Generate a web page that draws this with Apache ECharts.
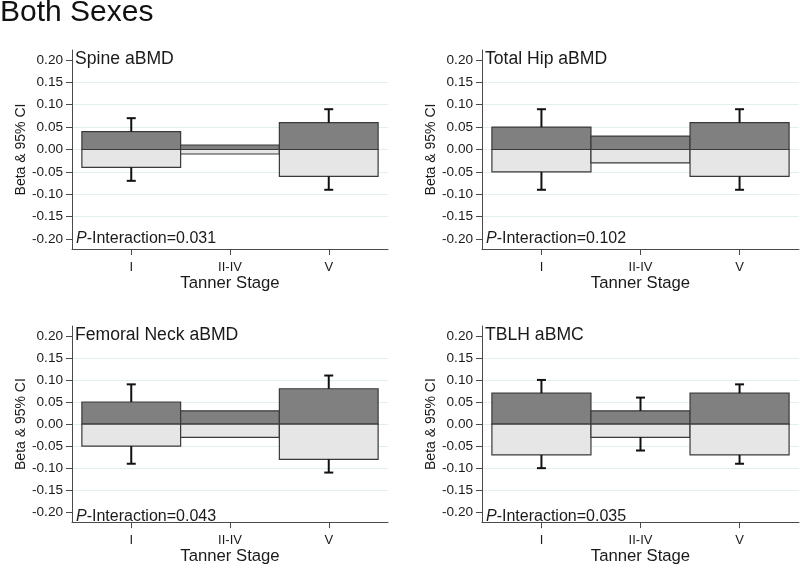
<!DOCTYPE html>
<html><head><meta charset="utf-8">
<script src="https://cdn.jsdelivr.net/npm/echarts@6/dist/echarts.min.js"></script>
<style>html,body{margin:0;padding:0;background:#fff}#c{width:800px;height:566px}</style>
</head><body><div id="c"></div>
<script>
// ---- data ----
const categories = ['I', 'II-IV', 'V'];
const yTicks = [-0.20, -0.15, -0.10, -0.05, 0.00, 0.05, 0.10, 0.15, 0.20];
const panelTitles = ['Spine aBMD', 'Total Hip aBMD', 'Femoral Neck aBMD', 'TBLH aBMC'];
const pInteraction = ['0.031', '0.102', '0.043', '0.035'];

const spinePos = [0.04, 0.01, 0.06];
const spineNeg = [-0.04, -0.01, -0.06];
const spineUpper = [0.07, null, 0.09];
const spineLower = [-0.07, null, -0.09];

const hipPos = [0.05, 0.03, 0.06];
const hipNeg = [-0.05, -0.03, -0.06];
const hipUpper = [0.09, null, 0.09];
const hipLower = [-0.09, null, -0.09];

const neckPos = [0.05, 0.03, 0.08];
const neckNeg = [-0.05, -0.03, -0.08];
const neckUpper = [0.09, null, 0.11];
const neckLower = [-0.09, null, -0.11];

const tblhPos = [0.07, 0.03, 0.07];
const tblhNeg = [-0.07, -0.03, -0.07];
const tblhUpper = [0.10, 0.06, 0.09];
const tblhLower = [-0.10, -0.06, -0.09];

const panels = [
  {pos: spinePos, neg: spineNeg, up: spineUpper, lo: spineLower},
  {pos: hipPos, neg: hipNeg, up: hipUpper, lo: hipLower},
  {pos: neckPos, neg: neckNeg, up: neckUpper, lo: neckLower},
  {pos: tblhPos, neg: tblhNeg, up: tblhUpper, lo: tblhLower}
];

// ---- layout / style ----
const FONT = '"Liberation Sans", Arial, sans-serif';
const layout = [
  {left: 72, top: 50, width: 316, height: 199},
  {left: 482, top: 50, width: 317, height: 199},
  {left: 72, top: 326, width: 316, height: 201},
  {left: 482, top: 326, width: 317, height: 201}
];
const YMIN = -0.2223, YMAX = 0.2223;
const axisColor = '#4a4a4a';
const textColor = '#1a1a1a';
const darkFill = '#808080';
const lightFill = '#e6e6e6';
const borderColor = '#3a3a3a';

function barItem(color) {
  return function (params, api) {
    const x = api.value(0), v = api.value(1);
    const a = api.coord([x - 0.5, 0]);
    const b = api.coord([x + 0.5, v]);
    return {
      type: 'rect',
      shape: {x: a[0], y: Math.min(a[1], b[1]), width: b[0] - a[0], height: Math.abs(b[1] - a[1])},
      style: {fill: color, stroke: borderColor, lineWidth: 1.2}
    };
  };
}
function ciItem(params, api) {
  const x = api.value(0);
  const p0 = api.coord([x, api.value(1)]);
  const p1 = api.coord([x, api.value(2)]);
  const hw = 4.5;
  return {
    type: 'group',
    children: [
      {type: 'line', shape: {x1: p0[0], y1: p0[1], x2: p1[0], y2: p1[1]}, style: {stroke: '#111', lineWidth: 2}},
      {type: 'line', shape: {x1: p1[0] - hw, y1: p1[1], x2: p1[0] + hw, y2: p1[1]}, style: {stroke: '#111', lineWidth: 2}}
    ]
  };
}

const grids = [], xAxes = [], yAxes = [], series = [];
const titles = [{
  text: 'Both Sexes', left: 0, top: -2, padding: 0,
  textStyle: {fontSize: 30, fontWeight: 'normal', color: '#111', fontFamily: FONT}
}];

panels.forEach((p, i) => {
  const L = layout[i];
  grids.push({left: L.left, top: L.top, width: L.width, height: L.height, containLabel: false});
  xAxes.push({
    type: 'value', gridIndex: i, min: -0.6, max: 2.6,
    axisLine: {show: true, onZero: false, lineStyle: {color: axisColor, width: 1}},
    axisTick: {show: true, customValues: [0, 1, 2], length: 6, lineStyle: {color: axisColor}},
    axisLabel: {customValues: [0, 1, 2], formatter: v => categories[Math.round(v)], fontSize: 13, color: textColor, margin: 12, fontFamily: FONT},
    splitLine: {show: false},
    name: 'Tanner Stage', nameLocation: 'middle', nameGap: 24,
    nameTextStyle: {fontSize: 16.7, color: textColor, fontFamily: FONT}
  });
  yAxes.push({
    type: 'value', gridIndex: i, min: YMIN, max: YMAX, splitNumber: 9,
    axisLine: {show: true, onZero: false, lineStyle: {color: axisColor, width: 1}},
    axisTick: {show: true, customValues: yTicks, length: 6, lineStyle: {color: axisColor}},
    axisLabel: {customValues: yTicks, formatter: v => v.toFixed(2), fontSize: 13.6, color: textColor, margin: 9, fontFamily: FONT},
    splitLine: {show: true, showMinLine: false, showMaxLine: false, lineStyle: {color: '#e3eef0', width: 1}},
    name: 'Beta & 95% CI', nameLocation: 'middle', nameGap: 44,
    nameTextStyle: {fontSize: 14, color: textColor, fontFamily: FONT}
  });
  const yOf = v => L.top + L.height * (YMAX - v) / (YMAX - YMIN);
  titles.push({
    text: panelTitles[i], left: L.left + 3, top: yOf(0.20) - 11, padding: 0,
    textStyle: {fontSize: 17.6, lineHeight: 20, fontWeight: 'normal', color: textColor, fontFamily: FONT}
  });
  titles.push({
    text: '{i|P}-Interaction=' + pInteraction[i], left: L.left + 4, top: yOf(-0.20) - 9, padding: 0,
    textStyle: {
      fontSize: 16, lineHeight: 18, fontWeight: 'normal', color: textColor, fontFamily: FONT,
      rich: {i: {fontStyle: 'italic', fontSize: 16, lineHeight: 18, color: textColor, fontFamily: FONT}}
    }
  });
  series.push({
    type: 'custom', xAxisIndex: i, yAxisIndex: i, renderItem: barItem(darkFill),
    encode: {x: 0, y: 1}, data: p.pos.map((v, k) => [k, v]), z: 2
  });
  series.push({
    type: 'custom', xAxisIndex: i, yAxisIndex: i, renderItem: barItem(lightFill),
    encode: {x: 0, y: 1}, data: p.neg.map((v, k) => [k, v]), z: 2
  });
  const ci = [];
  p.up.forEach((v, k) => { if (v !== null) ci.push([k, p.pos[k], v]); });
  p.lo.forEach((v, k) => { if (v !== null) ci.push([k, p.neg[k], v]); });
  series.push({
    type: 'custom', xAxisIndex: i, yAxisIndex: i, renderItem: ciItem,
    encode: {x: 0, y: [1, 2]}, data: ci, z: 3
  });
});

const chart = echarts.init(document.getElementById('c'), null, {renderer: 'canvas'});
chart.setOption({
  animation: false,
  backgroundColor: '#fff',
  title: titles,
  grid: grids,
  xAxis: xAxes,
  yAxis: yAxes,
  series: series
});
</script>
</body></html>
